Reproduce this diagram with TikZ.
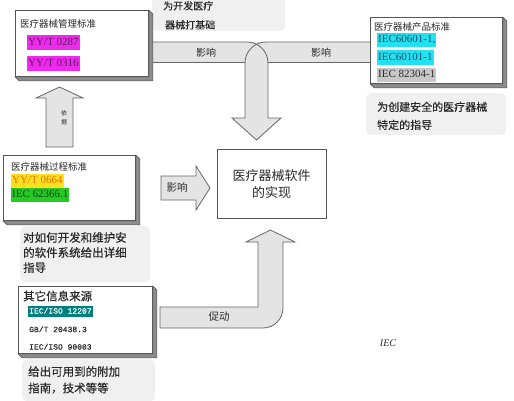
\documentclass[tikz,border=0pt]{standalone}
\usepackage{fontspec}
\setmainfont{Liberation Serif}
\newfontfamily\cjk{Noto Sans CJK SC}
\newfontfamily\cjkb[FakeBold=0.6]{Noto Sans CJK SC}
\newfontfamily\monofam[FakeBold=0.6]{Liberation Mono}
\definecolor{hlmag}{HTML}{EE2AEE}
\definecolor{txmag}{HTML}{5A1A5A}
\definecolor{hlyel}{HTML}{FFE020}
\definecolor{txyel}{HTML}{E07000}
\definecolor{hlgrn}{HTML}{22CC22}
\definecolor{txgrn}{HTML}{1A3A1A}
\definecolor{hlcya}{HTML}{22E2F2}
\definecolor{txcya}{HTML}{1A4A6A}
\definecolor{hlgry}{HTML}{C8C8C8}
\definecolor{hltea}{HTML}{008080}
\definecolor{notebg}{HTML}{F0F0F0}
\definecolor{arrowbg}{HTML}{E4E4E4}
\definecolor{edge}{HTML}{555555}
\definecolor{ink}{HTML}{2A2A2A}
\newcommand\boxslab[1]{\filldraw[slab] (#1.north east) -- ++(4,4) -- ([shift={(4,4)}]#1.south east) -- ([shift={(4,4)}]#1.south west) -- (#1.south west) -- (#1.south east) -- cycle;}
\begin{document}
\begin{tikzpicture}[x=1pt,y=-1pt]
\tikzset{
  stdbox/.style={draw=edge, line width=0.8pt, fill=white, anchor=north west, inner sep=0pt},
  slab/.style={fill=black!45, draw=edge, line width=0.5pt},
  note/.style={fill=notebg, rounded corners=5pt, draw=none, anchor=north west, inner sep=0pt},
  blockarrow/.style={fill=arrowbg, draw=black!60, line width=0.8pt, line join=miter},
  arrowline/.style={draw=black!60, line width=0.8pt},
  titletext/.style={anchor=west, inner sep=0pt, text=ink, font=\cjk\fontsize{9.5}{11}\selectfont},
  hl/.style={anchor=west, inner xsep=1pt, inner ysep=2.2pt, text height=8pt, text depth=2.5pt, font=\fontsize{11}{12}\selectfont},
  monotext/.style={anchor=west, inner xsep=1pt, inner ysep=2pt, text height=6pt, text depth=1.8pt, text=ink, font=\monofam\fontsize{8}{9}\selectfont},
  notetext/.style={anchor=north west, align=left, inner sep=0pt, text=ink},
  arrowlabel/.style={inner sep=0pt, text=ink, font=\cjk\fontsize{10}{11}\selectfont},
}
\useasboundingbox (0,0) rectangle (514,400);

% ---- gray notes ----
\node[note, minimum width=133pt, minimum height=37pt] (n1) at (152,-6) {};
\node[notetext, font=\cjkb\fontsize{10}{19}\selectfont] (n1t) at (163,1) {为开发医疗\\\hspace{2pt}器械打基础};
\node[note, minimum width=140pt, minimum height=42pt] (n2) at (366,93) {};
\node[notetext, font=\cjkb\fontsize{11}{18}\selectfont] (n2t) at (377,101.5) {为创建安全的医疗器械\\特定的指导};
\node[note, minimum width=130pt, minimum height=56pt] (n3) at (20,226) {};
\node[notetext, font=\cjkb\fontsize{11.5}{15}\selectfont] (n3t) at (23,232) {对如何开发和维护安\\的软件系统给出详细\\指导};
\node[note, minimum width=133pt, minimum height=42pt] (n4) at (22,359) {};
\node[notetext, font=\cjkb\fontsize{11.5}{16.5}\selectfont] (n4t) at (28,366) {给出可用到的附加\\指南，技术等等};

% ---- top band with down arrow ----
\fill[arrowbg] (150,42) rectangle (370,62);
\fill[arrowbg] (245,61) rectangle (268,118);
\fill[arrowbg] (232,118) -- (281,118) -- (256.5,140) -- cycle;
\draw[arrowline, line join=miter] (150,42) -- (247,42) arc[start angle=-90, end angle=0, radius=21] -- (268,118) -- (281,118) -- (256.5,140) -- (232,118) -- (245,118) -- (245,63);
\draw[arrowline] (370,42) -- (266,42) arc[start angle=-90, end angle=-180, radius=21];
\draw[arrowline] (150,62) -- (245,62);
\draw[arrowline] (268,62) -- (370,62);
\node[arrowlabel] (lab1) at (206,53) {影响};
\node[arrowlabel] (lab2) at (321,53) {影响};

% ---- left up arrow ----
\filldraw[blockarrow] (46,147) -- (46,98) -- (36,98) -- (59.5,87) -- (83,98) -- (73,98) -- (73,147) -- cycle;
\node[inner sep=0pt, text=ink, align=center, font=\cjk\fontsize{6}{9}\selectfont] (lab3) at (64,118) {依\\据};

% ---- right arrow ----
\filldraw[blockarrow] (161,176) -- (196,176) -- (196,166) -- (210,188) -- (196,210) -- (196,200) -- (161,200) -- cycle;
\node[arrowlabel, font=\cjk\fontsize{10.5}{11}\selectfont] (lab4) at (177,187) {影响};

% ---- bottom bent arrow ----
\filldraw[blockarrow] (160,307) -- (258,307) -- (258,242) -- (246,242) -- (270.5,230) -- (295,242) -- (283,242) -- (283,308) arc[start angle=0, end angle=90, radius=20] -- (160,328) -- cycle;
\node[arrowlabel, font=\cjk\fontsize{10.5}{11}\selectfont] (lab5) at (219,317) {促动};

% ---- box 1 ----
\node[stdbox, minimum width=133pt, minimum height=66pt] (b1) at (15,10) {};
\boxslab{b1}
\node[titletext] (b1t) at (20,24) {医疗器械管理标准};
\node[hl, fill=hlmag, text=txmag] (b1a) at (27,42.5) {YY/T 0287};
\node[hl, fill=hlmag, text=txmag] (b1b) at (27,63.5) {YY/T 0316};

% ---- box product ----
\node[stdbox, minimum width=132pt, minimum height=66pt] (b4) at (370,17) {};
\boxslab{b4}
\node[titletext] (b4t) at (374,27) {医疗器械产品标准};
\node[hl, fill=hlcya, text=txcya] (b4a) at (377,40) {IEC60601-1,};
\node[hl, fill=hlcya, text=txcya] (b4b) at (377,57.5) {IEC60101-1};
\node[hl, fill=hlgry, text=ink] (b4c) at (377,75) {IEC 82304-1};

% ---- box 2 ----
\node[stdbox, minimum width=132pt, minimum height=65pt] (b2) at (3,155) {};
\boxslab{b2}
\node[titletext] (b2t) at (11,167) {医疗器械过程标准};
\node[hl, fill=hlyel, text=txyel] (b2a) at (11,181) {YY/T 0664};
\node[hl, fill=hlgrn, text=txgrn] (b2b) at (11,195) {IEC 62366.1};

% ---- box 3 ----
\node[stdbox, minimum width=134pt, minimum height=67pt] (b3) at (18,286) {};
\boxslab{b3}
\node[titletext, font=\cjkb\fontsize{11.5}{12}\selectfont] (b3t) at (23,296) {其它信息来源};
\node[monotext, fill=hltea, text=white] (b3a) at (28,311.5) {IEC/ISO 12207};
\node[monotext] (b3b) at (28,330) {GB/T 20438.3};
\node[monotext] (b3c) at (28,347.5) {IEC/ISO 90003};

% ---- main box ----
\node[draw=edge, line width=0.8pt, fill=white, minimum width=109pt, minimum height=69pt, inner sep=0pt, align=center, text=ink, font=\cjk\fontsize{13}{17}\selectfont] (main) at (271.5,184) {医疗器械软件\\的实现};

% ---- IEC ----
\node[inner sep=0pt, text=ink, font=\itshape\fontsize{10}{11}\selectfont] (iec) at (388,343) {IEC};
\end{tikzpicture}
\end{document}
